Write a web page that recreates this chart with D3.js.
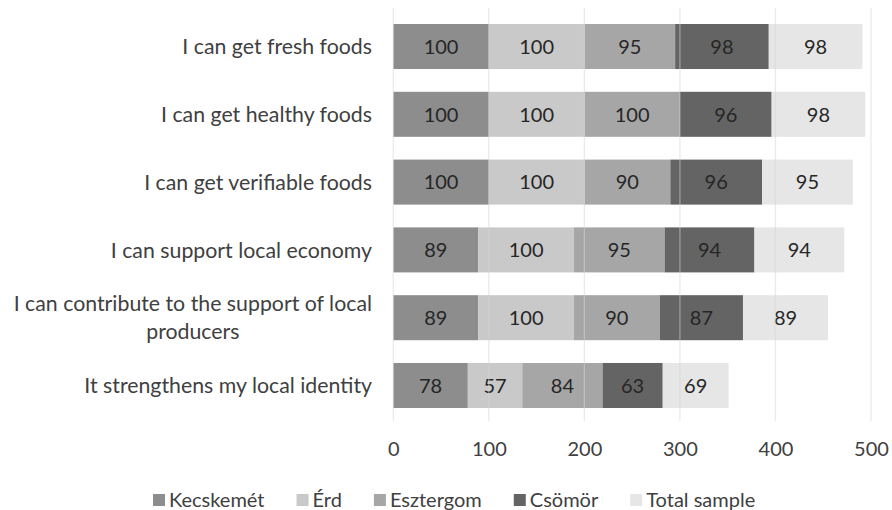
<!DOCTYPE html>
<html>
<head>
<meta charset="utf-8">
<script src="https://cdn.jsdelivr.net/npm/d3@7"></script>
<style>
  html, body { margin: 0; padding: 0; background: #fff; }
  svg { display: block; font-family: Lato, "Open Sans", sans-serif; }
</style>
</head>
<body>
<svg id="chart" width="892" height="510"></svg>
<script>
// Statements (top to bottom)
const categories = [
  "I can get fresh foods",
  "I can get healthy foods",
  "I can get verifiable foods",
  "I can support local economy",
  "I can contribute to the support of local producers",
  "It strengthens my local identity"
];
// Series names (stack order, left to right)
const seriesNames = ["Kecskemét", "Érd", "Esztergom", "Csömör", "Total sample"];
// Values per series, in category order
const kecskemet = [100, 100, 100, 89, 89, 78];
const erd       = [100, 100, 100, 100, 100, 57];
const esztergom = [95, 100, 90, 95, 90, 84];
const csomor    = [98, 96, 96, 94, 87, 63];
const total     = [98, 98, 95, 94, 89, 69];
const xTicks = [0, 100, 200, 300, 400, 500];

const seriesValues = [kecskemet, erd, esztergom, csomor, total];
const colors = ["#8d8d8d", "#c9c9c9", "#a6a6a6", "#646464", "#e6e6e6"];
const FS = 20;
const CAT_FS = 21.3;

const rows = categories.map((c, i) => {
  const r = { category: c };
  seriesNames.forEach((s, j) => r[s] = seriesValues[j][i]);
  return r;
});

const svg = d3.select("#chart");
const x = d3.scaleLinear().domain([0, 500]).range([393.3, 871]);
const y = d3.scaleBand().domain(categories).range([10, 422]).paddingInner(0.336).paddingOuter(0.2065);

const stack = d3.stack().keys(seriesNames)(rows);

// stacked bars
const layers = svg.append("g").selectAll("g").data(stack).join("g")
  .attr("fill", (d, i) => colors[i]);
layers.selectAll("rect").data(d => d.map(p => ({ p, key: d.key }))).join("rect")
  .attr("x", d => x(d.p[0]))
  .attr("width", d => x(d.p[1]) - x(d.p[0]))
  .attr("y", d => y(d.p.data.category))
  .attr("height", y.bandwidth());

// vertical gridlines, faint, over the bars
svg.append("g").selectAll("line").data(xTicks).join("line")
  .attr("x1", d => x(d)).attr("x2", d => x(d))
  .attr("y1", 8).attr("y2", 421)
  .attr("stroke", "#d6d6d6").attr("stroke-opacity", 0.5).attr("stroke-width", 1.3);

// value labels inside segments
layers.selectAll("text").data(d => d.map(p => ({ p, key: d.key }))).join("text")
  .attr("x", d => (x(d.p[0]) + x(d.p[1])) / 2)
  .attr("y", d => y(d.p.data.category) + y.bandwidth() / 2)
  .attr("dy", "0.36em")
  .attr("text-anchor", "middle")
  .attr("fill", "#262626")
  .attr("font-size", FS)
  .text(d => d.p.data[d.key]);

// x axis tick labels
const xAxis = d3.axisBottom(x).tickValues(xTicks).tickSize(0).tickPadding(0);
const gx = svg.append("g").attr("transform", "translate(0,442)").call(xAxis);
gx.select(".domain").remove();
gx.selectAll("text").attr("font-size", FS).attr("fill", "#404040")
  .attr("font-family", "Lato, 'Open Sans', sans-serif");

// category labels, wrapped and centred in a right-aligned block
const measure = s => {
  const p = svg.append("text").attr("font-size", CAT_FS).text(s);
  const w = p.node().getComputedTextLength();
  p.remove();
  return w;
};
const maxW = 366;
const lh = 28;
const catG = svg.append("g");
categories.forEach(c => {
  const cy = y(c) + y.bandwidth() / 2;
  const words = c.split(" ");
  const lines = [];
  let line = [];
  words.forEach(w => {
    line.push(w);
    if (measure(line.join(" ")) > maxW && line.length > 1) {
      line.pop();
      lines.push(line.join(" "));
      line = [w];
    }
  });
  lines.push(line.join(" "));
  const blockW = d3.max(lines, measure);
  const cx = 372 - blockW / 2;
  const t = catG.append("text")
    .attr("text-anchor", "middle")
    .attr("font-size", CAT_FS)
    .attr("fill", "#404040");
  lines.forEach((l, k) => {
    t.append("tspan")
      .attr("x", cx)
      .attr("y", cy + (k - (lines.length - 1) / 2) * lh)
      .attr("dy", "0.36em")
      .text(l);
  });
});

// legend
const legend = svg.append("g");
let lx = 153;
seriesNames.forEach((s, i) => {
  legend.append("rect").attr("x", lx).attr("y", 494).attr("width", 12).attr("height", 12).attr("fill", colors[i]);
  const t = legend.append("text").attr("x", lx + 16).attr("y", 500).attr("dy", "0.36em")
    .attr("font-size", FS).attr("fill", "#404040").text(s);
  lx += 16 + t.node().getComputedTextLength() + 32;
});
</script>
</body>
</html>
